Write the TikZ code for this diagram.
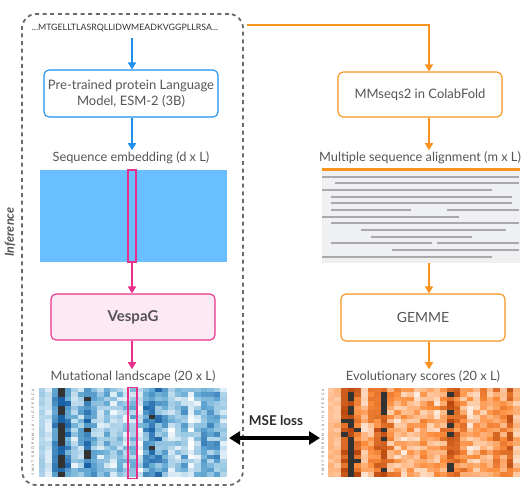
\documentclass[tikz,border=0pt]{standalone}
\usepackage{fontspec}
\setmainfont{Lato}
\usetikzlibrary{arrows.meta,calc}
\definecolor{txt}{HTML}{555555}
\definecolor{bluec}{HTML}{1E8FEA}
\definecolor{orangec}{HTML}{F7931E}
\definecolor{pinkc}{HTML}{E8308A}
\definecolor{pinkfill}{HTML}{FDE9F4}
\definecolor{embc}{HTML}{69BFFF}
\definecolor{msafill}{HTML}{EFF0F2}
\definecolor{msaline}{HTML}{A9A9AB}
\definecolor{dashc}{HTML}{6A6A6A}
\definecolor{bmid}{HTML}{6BAED6}
\definecolor{bdark}{HTML}{08519C}
\definecolor{omid}{HTML}{FD8D3C}
\definecolor{odark}{HTML}{A63603}
\definecolor{hblack}{HTML}{333333}
\tikzset{
  procbox/.style={draw, rounded corners=5pt, line width=1.1pt, fill=white, text=txt, align=center, font=\fontsize{13}{16}\selectfont, inner sep=0pt},
  lbl/.style={text=txt, font=\fontsize{12.8}{15}\selectfont, inner sep=0pt},
  arr/.style={line width=1.8pt, -{Triangle[width=8pt,length=7pt]}},
  msal/.style={msaline, line width=1.3pt},
  aa/.style={text=txt, font=\fontsize{3.4}{3.6}\selectfont, inner sep=0pt, rotate=90}
}
\begin{document}
\begin{tikzpicture}[x=1pt,y=-1pt]
\useasboundingbox (0,0) rectangle (530,491);
% inference box
\node[draw=dashc, line width=1.8pt, dash pattern=on 4pt off 3.6pt, rounded corners=14pt, minimum width=221pt, minimum height=471pt, inner sep=0pt] (infbox) at (132.5,249.5) {};
\node[text=txt, font=\fontsize{12.5}{14}\selectfont\bfseries\itshape, rotate=90, inner sep=0pt] (inflbl) at (10,232) {Inference};
% left column
\coordinate (lx) at (132,0);
\node[text=txt!60!black, font=\fontsize{8.8}{10}\selectfont, inner sep=0pt] (seq) at (125,28) {...MTGELLTLASRQLLIDWMEADKVGGPLLRSA...};
\node[procbox, draw=bluec, minimum width=174pt, minimum height=47pt] (plm) at (131,93.5) {Pre-trained protein Language\\Model, ESM-2 (3B)};
\node[lbl] (emblbl) at (131,158) {Sequence embedding (d x L)};
\node[fill=embc, minimum width=187pt, minimum height=92pt, inner sep=0pt] (emb) at (133.5,216) {};
\node[draw=pinkc, line width=1.2pt, minimum width=8pt, minimum height=92pt, inner sep=0pt] (embcol) at (132,216) {};
\node[procbox, draw=pinkc, fill=pinkfill, minimum width=164pt, minimum height=46pt, font=\fontsize{15}{17}\selectfont\bfseries] (vespag) at (133,317) {VespaG};
\node[lbl] (mutlbl) at (133,377) {Mutational landscape (20 x L)};
\node[minimum width=188pt, minimum height=89pt, inner sep=0pt] (hmL) at (133,432.5) {};
% right column
\coordinate (orstart) at (247,25);
\coordinate (ocorner) at (429,25);
\node[procbox, draw=orangec, minimum width=164pt, minimum height=45pt] (mms) at (420,94.5) {MMseqs2 in ColabFold};
\node[lbl] (msalbl) at (420,158) {Multiple sequence alignment (m x L)};
\node[fill=msafill, minimum width=198pt, minimum height=93pt, inner sep=0pt] (msa) at (421,216.5) {};
\node[procbox, draw=orangec, minimum width=164pt, minimum height=47pt, font=\fontsize{14}{16}\selectfont] (gemme) at (423,317.5) {GEMME};
\node[lbl] (evolbl) at (423,377) {Evolutionary scores (20 x L)};
\node[minimum width=192pt, minimum height=89pt, inner sep=0pt] (hmR) at (424,432.5) {};
% MSA lines
\draw[orangec, line width=3pt] (msa.north west) -- (msa.north east);
\foreach \y/\a/\b in {177/322/519, 183/335/519, 190/322/492, 197/331/512, 203/331/512, 210/331/411, 210/447/519, 217/322/459, 223/331/519, 230/361/506, 237/371/472, 243/331/432, 243/437/519, 250/392/519, 257/322/492}
  \draw[msal] (\a,\y) -- (\b,\y);
% heatmaps
\pgfmathsetseed{11}
\foreach \bb/\ss [count=\ci from 0] in {0.28/0.1, 0.18/0.15, 0.68/0.3, 0.97/0.2, 0.72/0.5, 0.3/0.4, 0.38/0.4, 0.8/0.5, 0.45/0.45, 0.3/0.4, 0.35/0.45, 0.25/0.4, 0.35/0.4, 0.28/0.4, 0.38/0.45, 0.22/0.4, 0.62/0.5, 0.74/0.4, 0.6/0.5, 0.42/0.45, 0.25/0.45, 0.3/0.4, 0.42/0.45, 0.2/0.4, 0.3/0.4, 0.55/0.4, 0.5/0.45, 0.5/0.45, 0.22/0.3}{
  \foreach \r in {0,...,19}{
    \pgfmathsetmacro\v{max(0,min(1,\bb+(rnd-0.5)*\ss*1.1))}
    \pgfmathtruncatemacro\lo{min(100,200*\v)}
    \pgfmathtruncatemacro\hi{max(0,200*\v-100)}
    \pgfmathtruncatemacro\blk{\v>0.92 ? 1 : 0}
    \ifnum\blk=1 \def\cc{hblack}\else\ifnum\hi>0 \edef\cc{bdark!\hi!bmid}\else\edef\cc{bmid!\lo!white}\fi\fi
    \fill[\cc] ($(hmL.north west)+(\ci*6.483,\r*4.45)$) rectangle ++(6.6,4.55);
  }
}
\foreach \bb/\ss [count=\ci from 0] in {0.3/0.1, 0.28/0.15, 0.8/0.3, 0.97/0.2, 0.7/0.5, 0.32/0.4, 0.42/0.4, 0.66/0.4, 0.9/0.4, 0.45/0.45, 0.35/0.45, 0.3/0.4, 0.35/0.4, 0.3/0.4, 0.38/0.45, 0.42/0.45, 0.32/0.4, 0.5/0.45, 0.82/0.35, 0.62/0.4, 0.45/0.45, 0.3/0.4, 0.32/0.4, 0.42/0.45, 0.35/0.4, 0.55/0.4, 0.45/0.45, 0.6/0.45, 0.3/0.3}{
  \foreach \r in {0,...,19}{
    \pgfmathsetmacro\v{max(0,min(1,\bb+(rnd-0.5)*\ss*1.1))}
    \pgfmathtruncatemacro\lo{min(100,200*\v)}
    \pgfmathtruncatemacro\hi{max(0,200*\v-100)}
    \pgfmathtruncatemacro\blk{\v>0.92 ? 1 : 0}
    \ifnum\blk=1 \def\cc{hblack}\else\ifnum\hi>0 \edef\cc{odark!\hi!omid}\else\edef\cc{omid!\lo!white}\fi\fi
    \fill[\cc] ($(hmR.north west)+(\ci*6.621,\r*4.45)$) rectangle ++(6.7,4.55);
  }
}
\foreach \l [count=\i from 0] in {A,C,D,E,F,G,H,I,K,L,M,N,P,Q,R,S,T,V,W,Y}{
  \node[aa] at ($(hmL.north west)+(-6,\i*4.45+2.2)$) {\l};
  \node[aa] at ($(hmR.north west)+(-5,\i*4.45+2.2)$) {\l};
}
\node[draw=pinkc, line width=1.4pt, minimum width=9pt, minimum height=91pt, inner sep=0pt] (hmcol) at (132.5,433) {};
% arrows
\draw[arr, bluec] ([yshift=-6pt]seq.south -| lx) -- (plm.north -| lx);
\draw[arr, bluec] (plm.south -| lx) -- ([yshift=1.5pt]emblbl.north -| lx);
\draw[arr, pinkc] (emb.south -| lx) -- (vespag.north -| lx);
\draw[arr, pinkc] (vespag.south -| lx) -- ([yshift=1.5pt]mutlbl.north -| lx);
\draw[orangec, line width=1.8pt] (orstart) -- (ocorner);
\draw[arr, orangec] ([yshift=1pt]ocorner) -- (mms.north -| ocorner);
\draw[arr, orangec] (mms.south -| ocorner) -- ([yshift=1.5pt]msalbl.north -| ocorner);
\draw[arr, orangec] (msa.south -| ocorner) -- (gemme.north -| ocorner);
\draw[arr, orangec] (gemme.south -| ocorner) -- ([yshift=1.5pt]evolbl.north -| ocorner);
\coordinate (mseA) at (229,438);
\coordinate (mseB) at (320,438);
\draw[line width=3.5pt, {Triangle[width=13pt,length=11pt]}-{Triangle[width=13pt,length=11pt]}] (mseA) -- (mseB);
\node[text=txt!50!black, font=\fontsize{13.5}{15}\selectfont\bfseries, inner sep=0pt] (mse) at (276,421) {MSE loss};
\end{tikzpicture}
\end{document}
